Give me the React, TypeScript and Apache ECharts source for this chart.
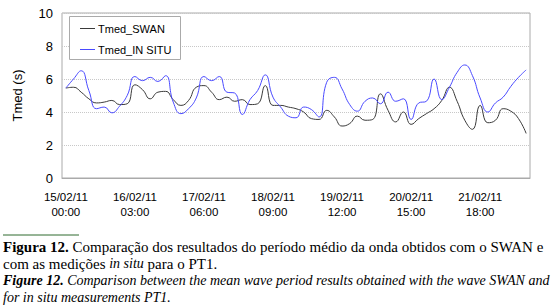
import React, { useEffect, useRef } from "react";
import * as echarts from "echarts";

const swan = [
  5.45, 5.5, 5.2, 4.8, 4.55, 4.6, 4.7, 4.45, 4.5, 5.65,
  5.35, 4.8, 5.2, 5.25, 4.75, 4.4, 4.7, 5.5, 5.6, 5.2,
  4.75, 4.9, 4.65, 4.75, 4.45, 4.5, 5.6, 4.4, 4.4, 4.3,
  4.2, 4.0, 3.6, 3.55, 4.1, 3.7, 3.15, 3.3, 3.75, 3.5,
  3.55, 5.1, 4.1, 3.4, 4.0, 3.25, 3.6, 3.9, 4.2, 4.7,
  5.5, 4.65, 3.5, 2.95, 4.4, 3.35, 3.5, 4.2, 4.05, 3.6,
  2.7,
];

const inSitu = [
  5.45, 6.0, 6.5, 5.3, 4.2, 4.3, 3.95, 4.35, 5.0, 6.15,
  5.9, 6.1, 5.85, 6.2, 4.6, 3.9, 4.2, 4.85, 6.15, 5.9,
  6.15, 5.2, 5.15, 3.85, 4.75, 5.3, 6.25, 4.9, 4.3, 3.75,
  3.65, 4.3, 4.15, 3.7, 5.8, 6.1, 5.4, 4.45, 4.05, 4.65,
  4.85, 4.5, 5.2, 4.65, 4.8, 3.55, 4.55, 4.65, 6.0, 4.75,
  5.5, 6.4, 6.85, 6.2, 4.85, 4.0, 4.55, 4.9, 5.55, 6.1,
  6.55,
];

const startDay = 15;
const stepHours = 3;
const categories: string[] = swan.map((_, i) => {
  const h = i * stepHours;
  const d = startDay + Math.floor(h / 24);
  const hh = h % 24;
  return `${d}/02/11\n${String(hh).padStart(2, "0")}:00`;
});

const seriesNames = ["Tmed_SWAN", "Tmed_IN SITU"];
const seriesColors = ["#3a3a3a", "#4a4aff"];
const yAxisName = "Tmed (s)";
const captionLines = [
  "{b|Figura 12.} Comparação dos resultados do período médio da onda obtidos com o SWAN e",
  "com as medições {i|in situ} para o PT1.",
  "{bi|Figure 12.}{i| Comparison between the mean wave period results obtained with the wave SWAN and}",
  "{i|for in situ measurements PT1.}",
];

export default function App() {
  const ref = useRef<HTMLDivElement>(null);
  useEffect(() => {
    if (!ref.current) return;
    const chart = echarts.init(ref.current, undefined, { renderer: "svg" });
    const serif = "'Liberation Serif', serif";
    const sans = "'Liberation Sans', Arial, sans-serif";
    const legendItems = seriesNames.flatMap((n, k) => [
      {
        type: "line",
        z: 101,
        shape: { x1: 80, y1: 28.5 + k * 21, x2: 95, y2: 28.5 + k * 21 },
        style: { stroke: seriesColors[k], lineWidth: 1 },
      },
      {
        type: "text",
        z: 101,
        x: 98,
        y: 28.5 + k * 21,
        style: {
          text: n,
          fontFamily: sans,
          fontSize: 11,
          fill: "#000",
          verticalAlign: "middle",
        },
      },
    ]);
    chart.setOption({
      animation: false,
      backgroundColor: "#ffffff",
      grid: {
        left: 62,
        right: 23,
        top: 13,
        bottom: 129,
        show: true,
        borderColor: "#aaaaaa",
        borderWidth: 1,
      },
      xAxis: {
        type: "category",
        data: categories,
        boundaryGap: true,
        axisLine: { show: true, lineStyle: { color: "#aaaaaa" } },
        axisTick: { show: false },
        splitLine: { show: false },
        axisLabel: {
          interval: 8,
          margin: 11,
          fontFamily: sans,
          fontSize: 11.5,
          lineHeight: 15,
          color: "#000",
        },
      },
      yAxis: {
        type: "value",
        min: 0,
        max: 10,
        interval: 2,
        name: yAxisName,
        nameLocation: "middle",
        nameGap: 38,
        nameTextStyle: { fontFamily: sans, fontSize: 13, color: "#000" },
        axisLine: { show: false },
        axisTick: { show: false },
        splitLine: { show: true, lineStyle: { color: "#c8c8c8", type: "dotted" } },
        axisLabel: { fontFamily: sans, fontSize: 13, color: "#000", margin: 9 },
      },
      series: [
        {
          name: seriesNames[0],
          type: "line",
          data: swan,
          smooth: 0.5,
          showSymbol: false,
          symbol: "none",
          lineStyle: { color: seriesColors[0], width: 1 },
          itemStyle: { color: seriesColors[0] },
        },
        {
          name: seriesNames[1],
          type: "line",
          data: inSitu,
          smooth: 0.5,
          showSymbol: false,
          symbol: "none",
          lineStyle: { color: seriesColors[1], width: 1 },
          itemStyle: { color: seriesColors[1] },
        },
      ],
      graphic: [
        {
          type: "rect",
          z: 100,
          shape: { x: 69.5, y: 16.5, width: 111, height: 43 },
          style: { fill: "#ffffff", stroke: "#aaaaaa", lineWidth: 1 },
        },
        ...legendItems,
        {
          type: "line",
          shape: { x1: 3, y1: 235, x2: 79, y2: 235 },
          style: { stroke: "#2f6b2f", lineWidth: 1 },
        },
        ...captionLines.map((t, k) => ({
          type: "text",
          left: 3,
          top: 239 + k * 17.3,
          style: {
            text: t,
            fontFamily: serif,
            fontSize: 15,
            fill: "#000",
            rich: {
              b: { fontFamily: serif, fontSize: 15, fontWeight: "bold" },
              i: { fontFamily: serif, fontSize: 14, fontStyle: "italic" },
              bi: { fontFamily: serif, fontSize: 14, fontStyle: "italic", fontWeight: "bold" },
            },
          },
        })),
      ],
    });
    return () => chart.dispose();
  }, []);
  return (
    <div
      ref={ref}
      style={{ position: "fixed", left: 0, top: 0, width: 553, height: 307 }}
    />
  );
}
